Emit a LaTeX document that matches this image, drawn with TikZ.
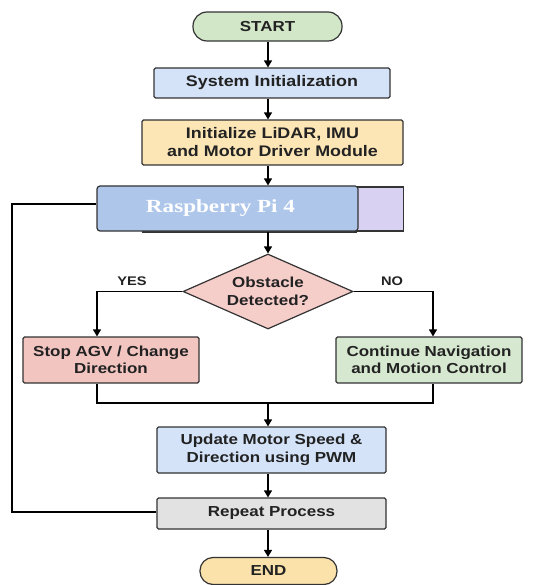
\documentclass[tikz,border=0pt]{standalone}
\usepackage{fontspec}
\setmainfont{Liberation Sans}[FakeStretch=1.17]
\newfontfamily\rpifont{Liberation Serif}[FakeStretch=1.25]
\usetikzlibrary{shapes.geometric,arrows.meta}
\definecolor{bordc}{HTML}{333333}
\definecolor{txtc}{HTML}{222222}
\definecolor{greenf}{HTML}{D2E6C8}
\definecolor{bluef}{HTML}{D4E3F8}
\definecolor{orangef}{HTML}{FCE6B6}
\definecolor{rpif}{HTML}{AEC6EA}
\definecolor{purplef}{HTML}{D9D1F1}
\definecolor{redf}{HTML}{F5CDC9}
\definecolor{stopf}{HTML}{F2C5C1}
\definecolor{contf}{HTML}{D6E8CF}
\definecolor{grayf}{HTML}{E2E2E2}
\definecolor{endf}{HTML}{FBE1AA}
\tikzset{
  base/.style={draw=bordc, line width=1.2pt, inner sep=0pt, align=center, text=txtc,
    font=\fontsize{14.5}{17.5}\selectfont\bfseries},
  boxn/.style={base, rectangle, rounded corners=1.5pt},
  pill/.style={base, rectangle, rounded corners=14pt},
  dia/.style={base, diamond, aspect=2.27},
  conn/.style={line width=1.3pt, draw=black},
  arr/.style={conn, -{Triangle[length=7pt,width=8pt]}},
  lbl/.style={inner sep=0pt, text=txtc, font=\fontsize{12.5}{14}\selectfont\bfseries}
}
\begin{document}
\begin{tikzpicture}[x=1pt,y=-1pt]
\useasboundingbox (0,0) rectangle (544,585);
\node[pill, fill=greenf, minimum width=149pt, minimum height=29pt] (start) at (267.5,26.5) {START};
\node[boxn, fill=bluef, minimum width=236pt, minimum height=30pt, font=\fontsize{15.3}{18}\selectfont\bfseries] (sysinit) at (272,83) {System Initialization};
\node[boxn, fill=orangef, minimum width=261pt, minimum height=45pt, font=\fontsize{15.3}{18}\selectfont\bfseries] (init) at (272.5,142.5) {Initialize LiDAR, IMU\\and Motor Driver Module};
\node[boxn, fill=purplef, minimum width=47pt, minimum height=44pt, rounded corners=0pt] (purp) at (380,209) {};
\coordinate (shl) at (142,232);
\coordinate (shr) at (357,232);
\draw[line width=1.8pt, draw=bordc] (shl) -- (shr);
\node[boxn, fill=rpif, minimum width=261pt, minimum height=45pt, rounded corners=3pt, text=white, font=\rpifont\fontsize{18.5}{20}\selectfont\bfseries] (rpi) at (227.5,208.5) {\hspace*{-14pt}Raspberry Pi 4};
\node[dia, fill=redf, minimum width=170pt, minimum height=75pt] (dec) at (268,291.5) {Obstacle\\Detected?};
\node[boxn, fill=stopf, minimum width=176pt, minimum height=46pt] (stop) at (111,360) {Stop AGV / Change\\Direction};
\node[boxn, fill=contf, minimum width=186pt, minimum height=46pt] (cont) at (429,360) {Continue Navigation\\and Motion Control};
\node[boxn, fill=bluef, minimum width=229pt, minimum height=46pt] (upd) at (271.5,450) {Update Motor Speed \&\\Direction using PWM};
\node[boxn, fill=grayf, minimum width=229pt, minimum height=31pt] (rep) at (271.5,513.5) {Repeat Process};
\node[pill, fill=endf, minimum width=137pt, minimum height=27pt, rounded corners=13pt] (end) at (268.5,571) {END};
\node[lbl] (yes) at (132,281) {YES};
\node[lbl] (no) at (392,281) {NO};
% main arrows
\coordinate (ax) at (268,0);
\draw[arr] (ax |- start.south) -- (ax |- sysinit.north);
\draw[arr] (ax |- sysinit.south) -- (ax |- init.north);
\draw[arr] (ax |- init.south) -- (ax |- rpi.north);
\draw[arr] (ax |- rpi.south) -- (dec.north);
% branches
\coordinate (lx) at (97,0);
\coordinate (rx) at (433,0);
\draw[arr] (dec.west) -- (lx |- dec.west) -- (lx |- stop.north);
\draw[arr] (dec.east) -- (rx |- dec.east) -- (rx |- cont.north);
\coordinate (mg) at (268,403);
\draw[conn] (lx |- stop.south) -- (lx |- mg) -- (rx |- mg) -- (rx |- cont.south);
\draw[arr] (mg) -- (ax |- upd.north);
\draw[arr] (ax |- upd.south) -- (ax |- rep.north);
\draw[arr] (ax |- rep.south) -- (ax |- end.north);
% loop back
\coordinate (lp) at (12,0);
\coordinate (ry) at (0,204);
\coordinate (py) at (0,512);
\draw[conn] (rep.west |- py) -- (lp |- py) -- (lp |- ry) -- (rpi.west |- ry);
\end{tikzpicture}
\end{document}
